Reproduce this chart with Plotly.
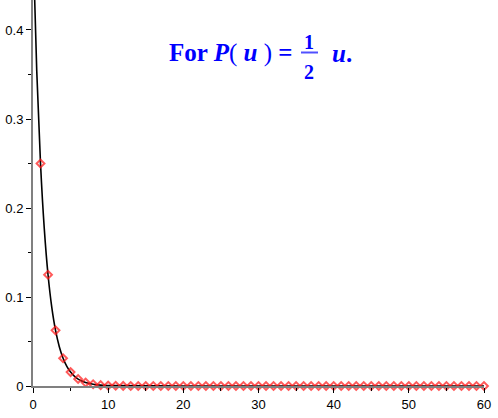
import plotly.graph_objects as go

# sampled points (red diamonds), n = 1..60
n_points = list(range(1, 61))
p_values = [
    0.25, 0.125, 0.0625, 0.03125, 0.015625, 0.0078125, 0.0039063, 0.0019531,
    0.0009766, 0.0004883, 0.0002441, 0.0001221, 0.0000610, 0.0000305, 0.0000153,
    0.0000076, 0.0000038, 0.0000019, 0.0000010, 0.0000005,
    0.0, 0.0, 0.0, 0.0, 0.0, 0.0, 0.0, 0.0, 0.0, 0.0,
    0.0, 0.0, 0.0, 0.0, 0.0, 0.0, 0.0, 0.0, 0.0, 0.0,
    0.0, 0.0, 0.0, 0.0, 0.0, 0.0, 0.0, 0.0, 0.0, 0.0,
    0.0, 0.0, 0.0, 0.0, 0.0, 0.0, 0.0, 0.0, 0.0, 0.0,
]

# continuous curve (black)
curve_x = [0, 0.5, 1, 1.5, 2, 2.5, 3, 3.5, 4, 4.5, 5, 5.5, 6, 6.5, 7, 7.5,
           8, 8.5, 9, 9.5, 10, 20, 30, 40, 50, 60]
curve_y = [0.5, 0.35355, 0.25, 0.17678, 0.125, 0.08839, 0.0625, 0.04419,
           0.03125, 0.0221, 0.015625, 0.01105, 0.0078125, 0.00552, 0.00391,
           0.00276, 0.00195, 0.00138, 0.00098, 0.00069, 0.00049,
           0.0, 0.0, 0.0, 0.0, 0.0]

x_ticks = [0, 10, 20, 30, 40, 50, 60]
y_ticks = [0, 0.1, 0.2, 0.3, 0.4]

W, H = 498, 418
L, R, T, B = 33, 14, 0, 32
BLUE = "#0000ff"


def px(x):
    return (x - L) / (W - L - R)


def py(y):
    return (H - B - y) / (H - B - T)


fig = go.Figure()

fig.add_trace(go.Scatter(
    x=curve_x, y=curve_y, mode="lines",
    line=dict(color="black", width=1.6, shape="spline"),
    hoverinfo="skip",
))
fig.add_trace(go.Scatter(
    x=n_points, y=p_values, mode="markers", cliponaxis=False,
    marker=dict(symbol="diamond-open", size=6,
                color="rgba(255,20,20,0.7)", line=dict(width=2)),
))

tick_font = dict(family="Liberation Sans", size=13, color="black")
fig.update_xaxes(
    range=[0, 60], tickvals=x_ticks, ticks="outside", ticklen=5,
    tickcolor="black", showline=True, linecolor="#808080", linewidth=2,
    showgrid=False, zeroline=False, tickfont=tick_font,
    minor=dict(dtick=5, ticks="outside", ticklen=3, tickcolor="black"),
)
fig.update_yaxes(
    range=[0, 0.4337], tickvals=y_ticks, ticks="outside", ticklen=5,
    tickcolor="black", showline=True, linecolor="#808080", linewidth=2,
    showgrid=False, zeroline=False, tickfont=tick_font,
    minor=dict(dtick=0.05, ticks="outside", ticklen=3, tickcolor="black"),
)

title_font = dict(family="Liberation Serif", size=25, color=BLUE)
frac_font = dict(family="Liberation Serif", size=20, color=BLUE)

fig.add_annotation(
    x=px(295), y=py(53), xref="paper", yref="paper",
    xanchor="right", yanchor="middle", showarrow=False,
    text="<b>For <i>P</i></b>( <b><i>u</i></b> ) <b>=</b>", font=title_font,
)
fig.add_annotation(
    x=px(309), y=py(42.5), xref="paper", yref="paper",
    xanchor="center", yanchor="middle", showarrow=False,
    text="<b>1</b>", font=frac_font,
)
fig.add_annotation(
    x=px(309), y=py(71.5), xref="paper", yref="paper",
    xanchor="center", yanchor="middle", showarrow=False,
    text="<b>2</b>", font=frac_font,
)
fig.add_annotation(
    x=px(330), y=py(53), xref="paper", yref="paper",
    xanchor="left", yanchor="middle", showarrow=False,
    text="<b><i>u</i>.</b>", font=title_font,
)
fig.add_shape(
    type="line", xref="paper", yref="paper",
    x0=px(301), x1=px(318), y0=py(52.5), y1=py(52.5),
    line=dict(color="#5050ff", width=2),
)

fig.update_layout(
    width=W, height=H, showlegend=False,
    margin=dict(l=L, r=R, t=T, b=B),
    paper_bgcolor="white", plot_bgcolor="white",
)

fig.write_html(
    "out.html",
    config={"displayModeBar": False},
    post_script="document.body.style.margin='0';",
)
